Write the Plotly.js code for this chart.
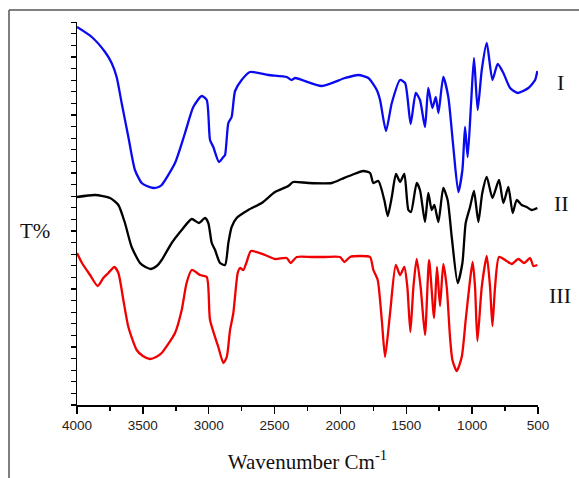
<!DOCTYPE html>
<html><head><meta charset="utf-8">
<script src="https://cdn.plot.ly/plotly-3.0.1.min.js"></script>
<style>html,body{margin:0;padding:0;background:#fff;}#chart{width:579px;height:478px;}</style>
</head><body><div id="chart"></div>
<script>
// Sample I (blue)
const wnI = [4000,3888,3787,3737,3699,3661,3610,3560,3509,3470,3420,3380,3357,3256,3180,3117,3053,3015,2990,2965,2922,2889,2876,2851,2826,2800,2750,2686,2547,2408,2370,2345,2142,1965,1864,1788,1724,1699,1654,1610,1547,1509,1467,1428,1396,1358,1333,1302,1276,1256,1219,1181,1143,1105,1074,1054,1034,1008,986,958,927,889,846,806,763,712,654,573,522,505];
const tI = [378,368,353,342,328,302,268,235,222,219,217,218,220,242,272,298,309,305,265,258,243,248,250,282,288,314,325,333,330,328,325,327,319,327,330,327,315,305,274,302,325,322,281,312,305,278,317,297,308,292,328,308,258,213,235,278,248,302,347,295,335,362,325,341,332,317,312,317,325,334];
// Sample II (black)
const wnII = [4000,3863,3749,3686,3636,3585,3522,3480,3438,3395,3357,3281,3205,3129,3074,3028,3003,2977,2952,2914,2876,2851,2826,2788,2700,2598,2497,2396,2358,2244,2066,1990,1915,1826,1775,1750,1712,1667,1641,1610,1578,1547,1515,1484,1464,1421,1396,1358,1333,1307,1287,1256,1219,1186,1155,1110,1074,1049,1016,986,953,923,889,846,796,763,725,692,662,624,586,548,505];
const tII = [208,210,207,200,182,158,142,138,136,139,145,162,175,186,182,187,182,162,155,142,140,162,178,187,195,202,213,219,223,222,222,226,230,234,232,222,224,205,189,208,231,223,231,195,193,222,215,183,212,195,200,183,217,205,168,122,142,182,198,214,183,212,228,207,225,202,218,192,205,200,198,195,197];
// Sample III (red)
const wnIII = [4000,3962,3901,3843,3800,3762,3717,3686,3648,3610,3547,3500,3446,3400,3357,3256,3205,3168,3129,3066,3015,2990,2927,2889,2863,2838,2813,2780,2762,2737,2712,2679,2573,2497,2408,2378,2332,2218,2117,2003,1970,1927,1851,1775,1750,1717,1686,1661,1623,1580,1547,1515,1492,1469,1446,1421,1391,1358,1327,1289,1267,1244,1219,1193,1168,1150,1117,1079,1049,1016,996,978,960,927,889,864,846,826,796,738,700,649,604,560,535,505];
const tIII = [152,142,130,119,127,132,138,132,105,78,55,49,46,48,52,72,95,122,135,130,128,85,58,42,48,75,92,132,137,135,143,154,150,146,147,142,148,148,148,148,143,148,149,148,135,125,85,48,92,140,130,138,118,73,118,146,118,70,145,87,138,99,141,118,68,45,34,48,85,125,143,118,64,118,149,118,79,118,148,144,141,146,142,147,139,140];

const xTickVals = [4000,3500,3000,2500,2000,1500,1000,500];
const xTickText = ['4000','3500','3000','2500','2000','1500','1000','500'];
const seriesLabels = ['I','II','III'];

const serif = 'Liberation Serif, Times New Roman, serif';
const mk = (x,y,c)=>({x:x,y:y,type:'scatter',mode:'lines',line:{color:c,width:2.3,shape:'spline',smoothing:0.6},hoverinfo:'skip',showlegend:false});
const data = [mk(wnI,tI,'#0a0af0'), mk(wnII,tII,'#000000'), mk(wnIII,tIII,'#f00000')];

const ann = (t,x,y,s)=>({text:t, xref:'paper', yref:'paper', x:x, y:y, xanchor:'center', yanchor:'middle', showarrow:false, font:{family:serif, size:s, color:'#111'}});
const layout = {
  width:579, height:478,
  margin:{l:77,r:41,t:22,b:73},
  paper_bgcolor:'#fff', plot_bgcolor:'#fff',
  showlegend:false,
  xaxis:{range:[4000,500], tickvals:xTickVals, ticktext:xTickText, ticks:'outside', ticklen:7, tickwidth:1.5, tickcolor:'#000',
    minor:{dtick:250, tick0:0, ticks:'outside', ticklen:4, tickwidth:1.5, tickcolor:'#000'},
    showline:true, linecolor:'#000', linewidth:1.5, showgrid:false, zeroline:false,
    tickfont:{family:'Liberation Sans, Arial, sans-serif', size:13.5, color:'#222'},
    title:{text:'Wavenumber Cm<sup>-1</sup>', font:{family:serif, size:21, color:'#111'}, standoff:22}},
  yaxis:{range:[0,383], showticklabels:false, ticks:'outside', ticklen:5, tickwidth:1.2, tickcolor:'#000', dtick:11.6, tick0:0,
    showline:true, linecolor:'#000', linewidth:1.5, showgrid:false, zeroline:false},
  annotations:[
    ann('T%', -0.091, 0.455, 21),
    ann(seriesLabels[0], 1.048, 0.843, 22),
    ann(seriesLabels[1], 1.052, 0.527, 22),
    ann(seriesLabels[2], 1.048, 0.285, 22)
  ],
  shapes:[
    {type:'line', xref:'paper', yref:'paper', x0:-0.1475, x1:-0.1475, y0:-0.25, y1:1.0313, line:{color:'#555', width:1.5}},
    {type:'line', xref:'paper', yref:'paper', x0:-0.1475, x1:1.12, y0:1.0313, y1:1.0313, line:{color:'#555', width:1.5}}
  ]
};
Plotly.newPlot('chart', data, layout, {displayModeBar:false, staticPlot:true});
</script></body></html>
